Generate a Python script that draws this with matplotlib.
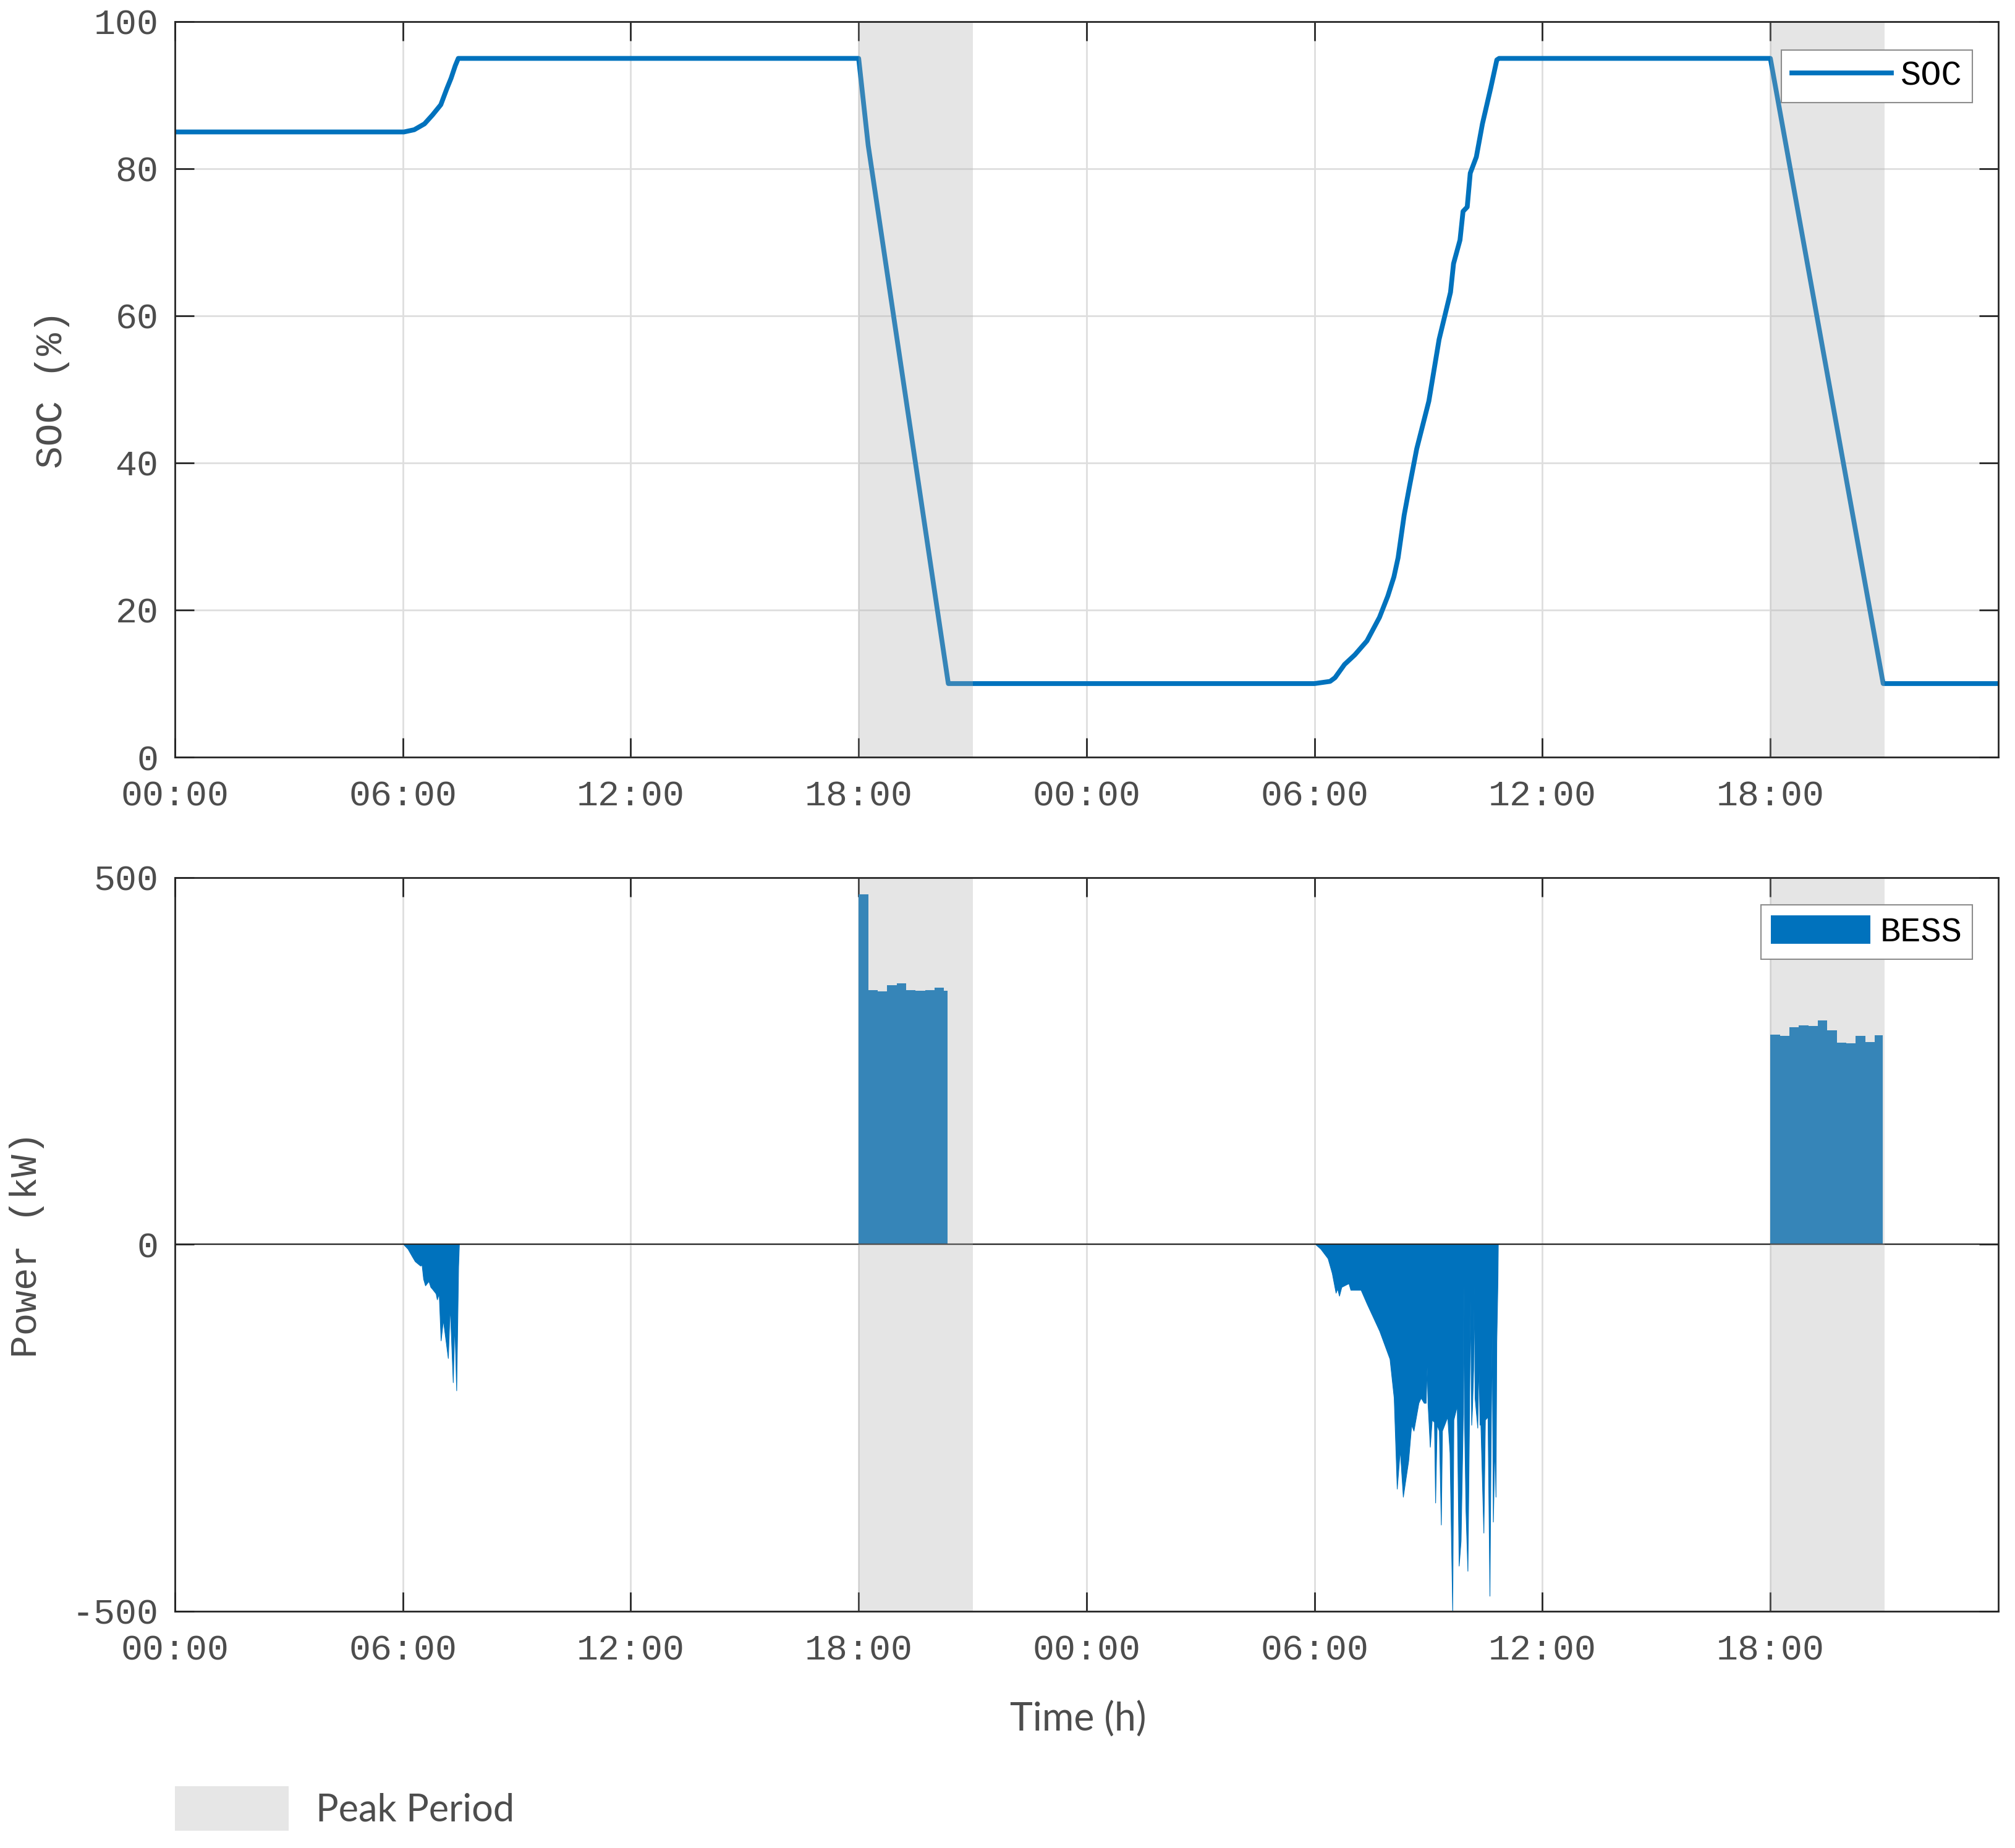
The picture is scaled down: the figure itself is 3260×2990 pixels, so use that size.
import matplotlib
matplotlib.use("Agg")
import matplotlib.pyplot as plt
from matplotlib.patches import Rectangle

plt.rcParams.update({"font.family": ["Liberation Mono", "DejaVu Sans Mono"],
                     "axes.unicode_minus": False})

# ── Datos (horas desde 00:00 del día 1) ───────────────────────────────────────
peak_periods = [(18.0, 21.0), (42.0, 45.0)]

t_soc = [0, 6.03, 6.30, 6.57, 6.78, 7.00, 7.16, 7.27, 7.38, 7.46, 18.0, 18.25,
         20.36, 30.0, 30.41, 30.54, 30.79, 31.06, 31.38, 31.71, 31.93, 32.09,
         32.20, 32.36, 32.50, 32.69, 33.01, 33.28, 33.58, 33.66, 33.83, 33.91,
         34.02, 34.10, 34.26, 34.42, 34.64, 34.80, 34.86, 42.0, 44.97, 48.0]
soc = [85, 85, 85.3, 86.1, 87.3, 88.7, 90.9, 92.3, 94.0, 95, 95, 83.2,
       10, 10, 10.3, 10.8, 12.6, 13.9, 15.8, 19.0, 21.9, 24.5,
       27.1, 32.9, 36.8, 41.9, 48.4, 56.8, 63.2, 67.1, 70.3, 74.2,
       74.8, 79.4, 81.6, 86.1, 91.0, 94.8, 95, 95, 10, 10]

# carga día 1 (kW, negativo = carga)
t_ch1 = [6.02, 6.13, 6.24, 6.32, 6.46, 6.50, 6.54, 6.59, 6.68, 6.73, 6.78, 6.87,
         6.90, 6.95, 7.00, 7.06, 7.19, 7.24, 7.32, 7.36, 7.41, 7.46, 7.48]
p_ch1 = [0, -6, -16, -23, -29, -28, -47, -56, -50, -58, -61, -67,
         -75, -67, -131, -103, -155, -84, -188, -106, -199, -30, 0]

# descarga día 1 (escalones de 15 min)
t_dis1 = [18.0, 18.25, 18.5, 18.75, 19.0, 19.25, 19.5, 19.75, 20.0, 20.25, 20.34]
p_dis1 = [477, 347, 345, 353, 356, 347, 346, 347, 350, 346, 346]

# carga día 2
t_ch2 = [30.03, 30.16, 30.35, 30.46, 30.56, 30.60, 30.65, 30.71, 30.90, 30.95,
         31.22, 31.38, 31.55, 31.71, 31.98, 32.09, 32.17, 32.25, 32.33, 32.47,
         32.55, 32.61, 32.74, 32.80, 32.88, 32.93, 32.96, 32.98, 33.04, 33.09,
         33.15, 33.18, 33.22, 33.28, 33.33, 33.36, 33.50, 33.56, 33.63, 33.66,
         33.75, 33.80, 33.85, 33.91, 33.92, 33.94, 33.98, 34.03, 34.07, 34.10,
         34.13, 34.15, 34.18, 34.20, 34.22, 34.29, 34.32, 34.35, 34.37, 34.45,
         34.49, 34.56, 34.61, 34.64, 34.67, 34.70, 34.74, 34.77, 34.79, 34.82,
         34.83]
p_ch2 = [0, -6, -19, -39, -66, -60, -70, -58, -53, -62,
         -62, -81, -100, -118, -156, -209, -333, -280, -344, -295,
         -246, -254, -216, -209, -216, -216, -167, -216, -276, -239,
         -242, -352, -246, -254, -382, -254, -235, -284, -500, -239,
         -220, -438, -404, -231, -55, -231, -363, -445, -246, -77,
         -246, -224, -171, -55, -209, -250, -160, -246, -242, -393,
         -239, -235, -479, -273, -122, -378, -273, -344, -133, -51,
         0]

# descarga día 2
t_dis2 = [42.0, 42.25, 42.5, 42.75, 43.0, 43.25, 43.5, 43.75, 44.0, 44.25,
          44.5, 44.75, 44.96]
p_dis2 = [286, 284, 296, 299, 298, 305, 292, 275, 274, 284, 276, 285, 285]

x_ticks = [0, 6, 12, 18, 24, 30, 36, 42]
x_labels = ["00:00", "06:00", "12:00", "18:00", "00:00", "06:00", "12:00", "18:00"]

# ── Estilo ────────────────────────────────────────────────────────────────────
BLUE = "#0072BD"
SHADE = (175 / 255, 175 / 255, 175 / 255)
TXT = "#4d4d4d"
AXC = "#262626"

fig = plt.figure(figsize=(32.6, 29.9), dpi=100)
ax1 = fig.add_axes([0.0868, 0.5903, 0.9049, 0.398])
ax2 = fig.add_axes([0.0868, 0.1281, 0.9049, 0.397])


def style(ax):
    ax.set_xlim(0, 48)
    ax.set_xticks(x_ticks)
    ax.set_xticklabels(x_labels)
    ax.grid(True, color="#dedede", lw=2)
    ax.set_axisbelow(True)
    ax.tick_params(direction="in", length=22, width=2, top=True, right=True,
                   labelsize=42, color=AXC, labelcolor=TXT)
    ax.tick_params(axis="x", pad=26)
    ax.tick_params(axis="y", pad=19)
    for s in ax.spines.values():
        s.set_color(AXC)
        s.set_linewidth(2)
    for a, b in peak_periods:
        ax.axvspan(a, b, color=SHADE, alpha=0.314, lw=0, zorder=2.3)


# ── SOC ───────────────────────────────────────────────────────────────────────
ax1.plot(t_soc, soc, color=BLUE, lw=5.6, label="SOC", zorder=2)
ax1.set_ylim(0, 100)
ax1.set_yticks([0, 20, 40, 60, 80, 100])
style(ax1)
ax1.set_ylabel("SOC (%)", fontsize=44, color=TXT)
ax1.yaxis.set_label_coords(-0.0576, 0.5)
leg1 = ax1.legend(loc="upper right", bbox_to_anchor=(0.9858, 0.9613),
                  borderaxespad=0, fancybox=False, framealpha=1,
                  edgecolor="#8c8c8c", prop={"family": "Liberation Mono", "size": 40},
                  handlelength=2.9, handletextpad=0.27, borderpad=0.3)
leg1.get_frame().set_linewidth(1.5)
leg1.set_zorder(5)

# ── Potencia BESS ─────────────────────────────────────────────────────────────
ax2.fill_between(t_dis1, p_dis1, 0, step="post", color=BLUE, lw=0, label="BESS", zorder=2)
ax2.fill_between(t_dis2, p_dis2, 0, step="post", color=BLUE, lw=0, zorder=2)
ax2.fill_between(t_ch1, p_ch1, 0, color=BLUE, lw=0.8, zorder=2)
ax2.fill_between(t_ch2, p_ch2, 0, color=BLUE, lw=0.8, zorder=2)
ax2.axhline(0, color=AXC, lw=1.6, zorder=2.2)
ax2.set_ylim(-500, 500)
ax2.set_yticks([-500, 0, 500])
style(ax2)
ax2.set_ylabel("Power (kW)", fontsize=44, color=TXT)
ax2.yaxis.set_label_coords(-0.0715, 0.5)
leg2 = ax2.legend(loc="upper right", bbox_to_anchor=(0.9858, 0.963),
                  borderaxespad=0, fancybox=False, framealpha=1,
                  edgecolor="#8c8c8c", prop={"family": "Liberation Mono", "size": 40},
                  handlelength=2.9, handleheight=0.92, handletextpad=0.27,
                  borderpad=0.3)
leg2.get_frame().set_linewidth(1.5)
leg2.set_zorder(5)

# ── Textos y leyenda de periodo punta ─────────────────────────────────────────
fig.text(0.535, 0.0635, "Time (h)", family="Lato", fontsize=45, color=TXT,
         ha="center", va="baseline")
fig.patches.append(Rectangle((0.0868, 0.00936), 0.0564, 0.0241,
                             transform=fig.transFigure, facecolor="#e6e6e6",
                             edgecolor="none"))
fig.text(0.1567, 0.0147, "Peak Period", family="Lato", fontsize=44, color=TXT,
         ha="left", va="baseline")

fig.savefig("out.png", dpi=100)
